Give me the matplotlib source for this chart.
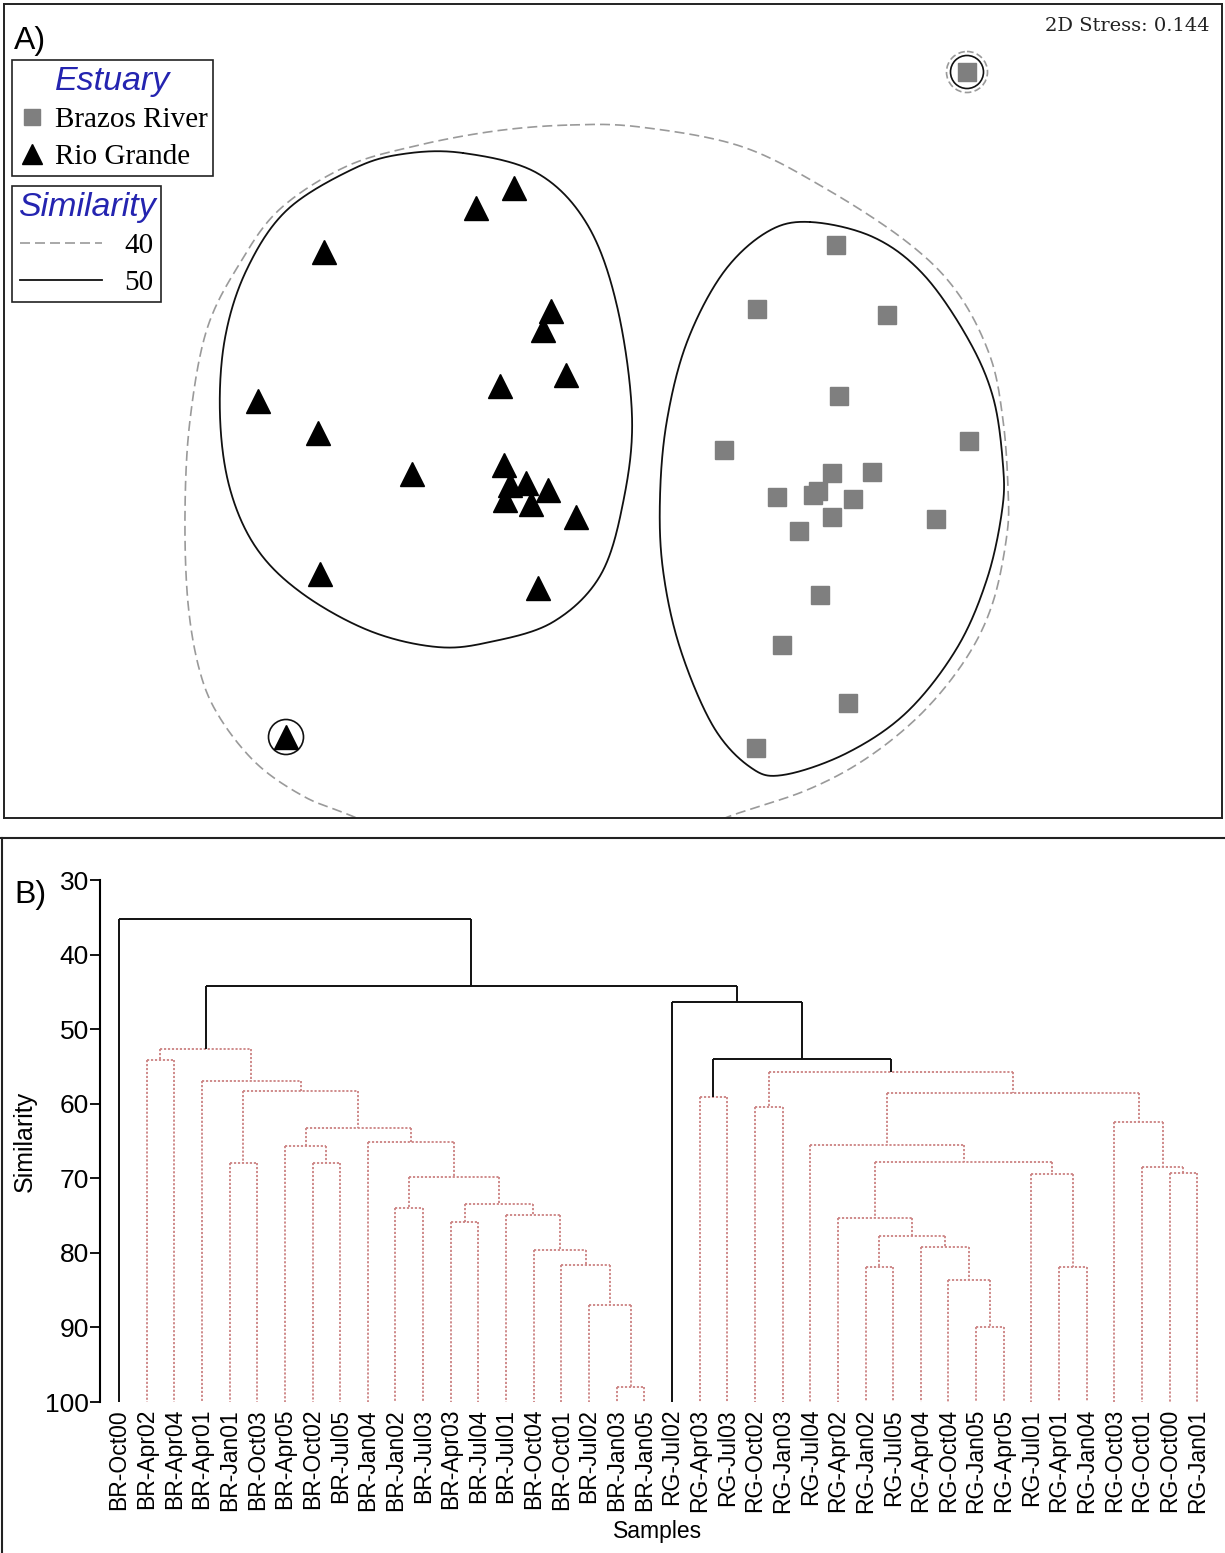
import numpy as np
import matplotlib
matplotlib.use("Agg")
import matplotlib.pyplot as plt
from matplotlib.lines import Line2D
from matplotlib.patches import Circle

# ---------------- Panel A data: NMDS ordination (arbitrary units) -------------
br_mds1 = [967, 836, 757, 887, 839, 969, 724, 832, 872, 777, 813, 818, 853, 832, 936, 799, 820, 782, 848, 756]
br_mds2 = [72, 245, 309, 315, 396, 441, 450, 473, 472, 497, 495, 491, 499, 517, 519, 531, 595, 645, 703, 748]

rg_mds1 = [514, 476, 324, 551, 543, 566, 500, 258, 318, 412, 504, 510, 526, 548, 505, 531, 576, 320, 538, 286]
rg_mds2 = [188, 208, 252, 311, 330, 375, 386, 401, 433, 474, 465, 485, 483, 490, 500, 504, 517, 574, 588, 737]

# similarity contours (outline vertices)
rg50_x = [463, 537, 587, 617, 632, 623, 600, 553, 490, 437, 370, 303, 257, 230, 220, 225, 247, 287, 353, 403]
rg50_y = [153, 173, 224, 306, 416, 503, 576, 622, 642, 647, 631, 594, 549, 489, 416, 338, 269, 210, 169, 154]

br50_x = [810, 873, 923, 967, 993, 1003, 1002, 987, 957, 907, 847, 783, 750, 713, 680, 663, 660, 667, 687, 723, 767]
br50_y = [222, 237, 274, 337, 397, 465, 511, 579, 648, 712, 753, 775, 767, 726, 648, 570, 497, 420, 342, 273, 232]

all40_x = [570, 640, 740, 823, 907, 957, 990, 1003, 1008, 1007, 993, 967, 923, 867, 807, 733, 640, 540,
           440, 347, 303, 257, 220, 200, 188, 185, 190, 207, 240, 280, 345, 415, 495]
all40_y = [125, 127, 146, 187, 242, 292, 356, 420, 488, 534, 602, 657, 712, 758, 790, 815, 850, 862,
           850, 814, 796, 764, 718, 672, 603, 512, 420, 329, 263, 209, 167, 146, 131]

stress_text = "2D Stress: 0.144"

# ---------------- Panel B data: cluster dendrogram ----------------------------
sample_labels = ["BR-Oct00", "BR-Apr02", "BR-Apr04", "BR-Apr01", "BR-Jan01", "BR-Oct03", "BR-Apr05",
                 "BR-Oct02", "BR-Jul05", "BR-Jan04", "BR-Jan02", "BR-Jul03", "BR-Apr03", "BR-Jul04",
                 "BR-Jul01", "BR-Oct04", "BR-Oct01", "BR-Jul02", "BR-Jan03", "BR-Jan05",
                 "RG-Jul02", "RG-Apr03", "RG-Jul03", "RG-Oct02", "RG-Jan03", "RG-Jul04", "RG-Apr02",
                 "RG-Jan02", "RG-Jul05", "RG-Apr04", "RG-Oct04", "RG-Jan05", "RG-Apr05", "RG-Jul01",
                 "RG-Apr01", "RG-Jan04", "RG-Oct03", "RG-Oct01", "RG-Oct00", "RG-Jan01"]
# merges: node 40+k joins merge_a[k] and merge_b[k] at merge_sim[k]
merge_a = [18, 17, 16, 15, 14, 12, 45, 10, 47, 9, 7, 6, 51, 4, 53, 3, 1, 56,
           31, 30, 29, 27, 61, 26, 34, 33, 63, 25, 38, 37, 36, 67, 23, 72, 21, 74, 20, 57, 0]
merge_b = [19, 40, 41, 42, 43, 13, 44, 11, 46, 48, 8, 50, 49, 5, 52, 54, 2, 55,
           32, 58, 59, 28, 60, 62, 35, 64, 65, 66, 39, 68, 69, 70, 24, 71, 22, 73, 75, 76, 77]
merge_sim = [98.0, 87.0, 81.6, 79.6, 74.9, 75.9, 73.4, 74.0, 69.8, 65.1, 68.0, 65.7, 63.3, 68.0, 58.3,
             57.0, 54.2, 52.6,
             89.9, 83.7, 79.2, 81.9, 77.7, 75.3, 81.9, 69.4, 67.8, 65.6, 69.3, 68.5, 62.4, 58.6, 60.4,
             55.7, 59.1, 54.0, 46.4, 44.2, 35.2]
merge_sig = [False] * 35 + [True, True, True, True]

# ---------------- figure -------------------------------------------------------
W, H = 1225, 1553
fig = plt.figure(figsize=(W / 100, H / 100), dpi=100)
SANS = ["Liberation Sans", "DejaVu Sans"]
SERIF = ["Liberation Serif", "DejaVu Serif"]


def fy(py):
    return 1 - py / H


def smooth_closed(px, py, n=40):
    P = np.column_stack([px, py]).astype(float)
    N = len(P)
    t = np.linspace(0, 1, n, endpoint=False)[:, None]
    segs = []
    for i in range(N):
        p0, p1, p2, p3 = P[(i - 1) % N], P[i], P[(i + 1) % N], P[(i + 2) % N]
        segs.append(0.5 * (2 * p1 + (-p0 + p2) * t + (2 * p0 - 5 * p1 + 4 * p2 - p3) * t ** 2
                           + (-p0 + 3 * p1 - 3 * p2 + p3) * t ** 3))
    out = np.vstack(segs + [P[:1]])
    return out[:, 0], out[:, 1]


# ---------------- Panel A ------------------------------------------------------
axA = fig.add_axes([4 / W, fy(818), 1218 / W, 814 / H])
axA.set_xlim(4, 1222)
axA.set_ylim(818, 4)
axA.set_xticks([])
axA.set_yticks([])
for s in axA.spines.values():
    s.set_linewidth(1.4)
    s.set_color("#222222")

gray_dash = dict(color="#9a9a9a", lw=1.2, linestyle=(0, (6, 3)))
x, y = smooth_closed(all40_x, all40_y)
axA.plot(x, y, **gray_dash)
x, y = smooth_closed(rg50_x, rg50_y)
axA.plot(x, y, color="#111111", lw=1.3)
x, y = smooth_closed(br50_x, br50_y)
axA.plot(x, y, color="#111111", lw=1.3)

# single-sample groups
axA.add_patch(Circle((br_mds1[0], br_mds2[0]), 20.5, fill=False, ec="#9a9a9a", lw=1.2, ls=(0, (4, 2))))
axA.add_patch(Circle((br_mds1[0], br_mds2[0]), 16.5, fill=False, ec="#111111", lw=1.2))
axA.add_patch(Circle((rg_mds1[-1], rg_mds2[-1]), 17.5, fill=False, ec="#111111", lw=1.2))

axA.plot(br_mds1, br_mds2, ls="none", marker="s", ms=13.5, mfc="#7f7f7f", mec="#7f7f7f")
axA.plot(rg_mds1, rg_mds2, ls="none", marker="^", ms=17, mfc="black", mec="black")

axA.text(1210, 26, stress_text, ha="right", va="center", fontsize=14, family=["DejaVu Serif"],
         color="#222222")
axA.text(14, 41, "A)", ha="left", va="center", fontsize=23, family=SANS)

leg_common = dict(loc="upper left", prop=dict(family=SERIF, size=21),
                  title_fontproperties=dict(family=SANS, style="italic", size=24.5),
                  frameon=True, fancybox=False, edgecolor="#222222", framealpha=1,
                  borderpad=0.2, labelspacing=0.35, borderaxespad=0)

h_est = [Line2D([], [], ls="none", marker="s", ms=11, mfc="#7f7f7f", mec="#7f7f7f"),
         Line2D([], [], ls="none", marker="^", ms=14, mfc="black", mec="black")]
leg1 = axA.legend(h_est, ["Brazos River", "Rio Grande"], title="Estuary",
                  bbox_to_anchor=((12 - 4) / 1218, 1 - (60 - 4) / 814),
                  handlelength=1.0, handletextpad=0.26, **leg_common)
leg1.get_frame().set_linewidth(1.2)
leg1.get_title().set_color("#2424b0")
axA.add_artist(leg1)

h_sim = [Line2D([], [], **gray_dash), Line2D([], [], color="#111111", lw=1.3)]
leg2 = axA.legend(h_sim, ["40", "50"], title="Similarity",
                  bbox_to_anchor=((12 - 4) / 1218, 1 - (186 - 4) / 814),
                  handlelength=2.8, handletextpad=0.77, **leg_common)
leg2.get_frame().set_linewidth(1.2)
leg2.get_title().set_color("#2424b0")

# ---------------- Panel B ------------------------------------------------------
fig.add_artist(Line2D([0, 1], [fy(838), fy(838)], transform=fig.transFigure, color="#222222", lw=1.5))
fig.add_artist(Line2D([2 / W, 2 / W], [0, fy(838)], transform=fig.transFigure, color="#222222", lw=1.5))
fig.text(14 / W, fy(895), "B)", ha="left", va="center", fontsize=23, family=SANS)

axB = fig.add_axes([100 / W, fy(1402), (1215 - 100) / W, (1402 - 880) / H])
n = len(sample_labels)
axB.set_xlim(-0.687, 39.64)
axB.set_ylim(100, 30)

node_x = list(range(n))
node_h = [100.0] * n
for a, b, s in zip(merge_a, merge_b, merge_sim):
    node_x.append((node_x[a] + node_x[b]) / 2)
    node_h.append(s)

sig_style = dict(color="#111111", lw=1.4, solid_capstyle="butt")
ns_style = dict(color="#cc8282", lw=1.3, linestyle=(0, (1.2, 1.0)))
for a, b, s, sig in zip(merge_a, merge_b, merge_sim, merge_sig):
    st = sig_style if sig else ns_style
    axB.plot([node_x[a], node_x[b]], [s, s], **st)
    axB.plot([node_x[a], node_x[a]], [s, node_h[a]], **st)
    axB.plot([node_x[b], node_x[b]], [s, node_h[b]], **st)

for side in ["top", "right", "bottom"]:
    axB.spines[side].set_visible(False)
axB.spines["left"].set_linewidth(1.5)
axB.set_yticks(np.arange(30, 101, 10))
axB.tick_params(axis="y", length=7, width=1.3, pad=1, labelsize=19)
axB.set_xticks(range(n))
axB.set_xticklabels(sample_labels, rotation=90, fontsize=16.5)
axB.tick_params(axis="x", length=0, pad=5)
for lab in axB.get_xticklabels() + axB.get_yticklabels():
    lab.set_family(SANS)
axB.set_ylabel("Similarity", fontsize=18, family=SANS, labelpad=6)
axB.set_xlabel("Samples", fontsize=16.5, family=SANS, labelpad=5)

fig.savefig("out.png", dpi=100)
